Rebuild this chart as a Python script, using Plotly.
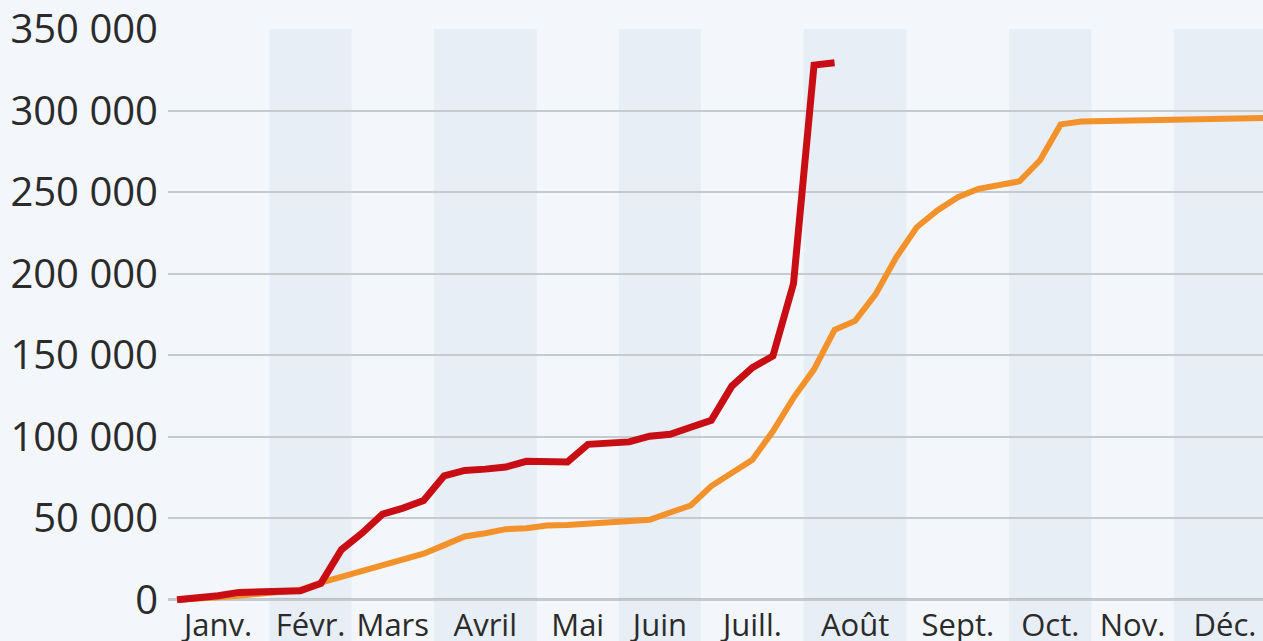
import plotly.graph_objects as go

# Month labels and their length in weeks (weekly data points)
months = ["Janv.", "Févr.", "Mars", "Avril", "Mai", "Juin", "Juill.", "Août",
          "Sept.", "Oct.", "Nov.", "Déc."]
month_weeks = [5, 4, 4, 5, 4, 4, 5, 5, 5, 4, 4, 5]

# Cumulative series (weekly)
red_values = [0, 800, 2500, 4500, 4900, 5500, 5500, 10000, 30700, 40800,
              52500, 56200, 60900, 76000, 79300, 80100, 81400, 84900, 84500, 84500,
              95300, 96200, 96800, 100300, 101500, 105800, 110000, 131000, 142300, 149500,
              193800, 327900, 329300]
orange_values = [0, 500, 1500, 2500, 3500, 4500, 6000, 10500, 14100, 17200,
                 21300, 24400, 28200, 33500, 38800, 40800, 43300, 43900, 45500, 45900,
                 46900, 47600, 48400, 49000, 53500, 57800, 69700, 77500, 85900, 103300,
                 123800, 141300, 165500, 171000, 187400, 210000, 228400, 238700, 246800, 252000,
                 254000, 256600, 269500, 291500, 293300, 293600, 293900, 294100, 294300, 294500,
                 294700, 294900, 295200, 295500]

y_ticks = [0, 50000, 100000, 150000, 200000, 250000, 300000, 350000]
y_ticktext = ["0", "50 000", "100 000", "150 000", "200 000", "250 000", "300 000", "350 000"]

BG = "#f3f7fb"
BAND = "#e8eef6"
RED = "#c80d14"
ORANGE = "#f3912b"

fig = go.Figure()

fig.add_trace(go.Scatter(x=list(range(len(orange_values))), y=orange_values,
                         mode="lines", line=dict(color=ORANGE, width=6),
                         hoverinfo="skip", showlegend=False))
fig.add_trace(go.Scatter(x=list(range(len(red_values))), y=red_values,
                         mode="lines", line=dict(color=RED, width=7),
                         hoverinfo="skip", showlegend=False))

# month bands and tick positions
shapes = []
tickvals = []
start = -0.5
for k, n in enumerate(month_weeks):
    end = start + n
    tickvals.append((start + end) / 2)
    if k % 2 == 1:
        shapes.append(dict(type="rect", xref="x", yref="paper", x0=start, x1=end,
                           y0=-0.2, y1=1, fillcolor=BAND, line=dict(width=0),
                           layer="below"))
    start = end

# baseline
shapes.append(dict(type="line", xref="paper", yref="y", x0=0, x1=1, y0=0, y1=0,
                   line=dict(color="#3a3a3a", width=2), layer="below"))

fig.update_layout(
    width=1263, height=641,
    margin=dict(l=168, r=0, t=29, b=38, autoexpand=False),
    paper_bgcolor=BG, plot_bgcolor=BG,
    font=dict(family="Open Sans", color="#2b2b2b"),
    shapes=shapes,
    xaxis=dict(range=[-0.44, 52.85], tickvals=tickvals, ticktext=months,
               showgrid=False, zeroline=False, showline=False, ticks="",
               tickfont=dict(size=31), ticklabelstandoff=1, automargin=False),
    yaxis=dict(range=[-2000, 350000], tickvals=y_ticks, ticktext=y_ticktext,
               showgrid=True, gridcolor="#c5cacf", gridwidth=1.5,
               zeroline=False, showline=False, ticks="",
               tickfont=dict(size=40), ticklabelstandoff=9, automargin=False),
)

fig.write_html("out.html", config={"displayModeBar": False},
               post_script="document.body.style.margin='0';document.body.style.overflow='hidden';")
